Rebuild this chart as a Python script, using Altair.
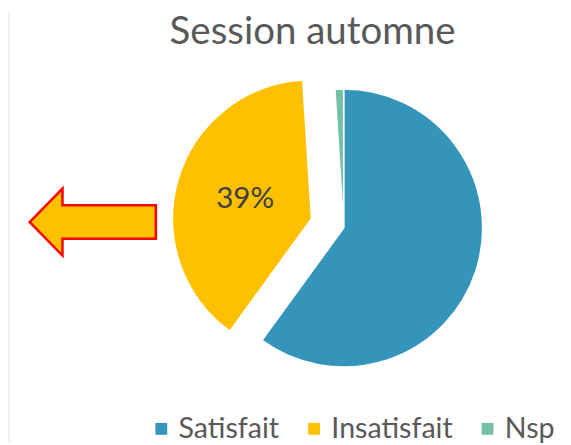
import altair as alt
import pandas as pd

# Data
categories = ["Satisfait", "Insatisfait", "Nsp"]
values = [60, 39, 1]
colors = ["#3494BA", "#FFC000", "#73C0A5"]
title_text = "Session automne"

FONT = "Lato"
CX, CY, R = 340.5, 220, 141
EXPLODE = 34

df = pd.DataFrame({"cat": categories, "value": values, "order": list(range(len(categories)))})

base = alt.Chart(df).transform_joinaggregate(
    total="sum(value)"
).transform_window(
    cum="sum(value)", sort=[alt.SortField("order")], frame=[None, 0]
).transform_calculate(
    start="(datum.cum - datum.value) / datum.total * 2 * PI",
    end="datum.cum / datum.total * 2 * PI",
).transform_calculate(
    mid="(datum.start + datum.end) / 2",
    ex=f"datum.cat == 'Insatisfait' ? {EXPLODE} : 0",
).transform_calculate(
    px=f"{CX} + datum.ex * sin(datum.mid)",
    py=f"{CY} - datum.ex * cos(datum.mid)",
).transform_calculate(
    tx="datum.px + 70 * sin(datum.mid)",
    ty="datum.py - 70 * cos(datum.mid)",
    label="round(datum.value / datum.total * 100) + '%'",
)

pie = base.mark_arc(radius=R, stroke="white", strokeWidth=1.5).encode(
    theta=alt.Theta("start:Q", scale=None),
    theta2=alt.Theta2("end:Q"),
    x=alt.X("px:Q", scale=None),
    y=alt.Y("py:Q", scale=None),
    color=alt.Color(
        "cat:N",
        scale=alt.Scale(domain=categories, range=colors),
        sort=categories,
        legend=alt.Legend(
            title=None,
            orient="none",
            legendX=141,
            legendY=409,
            direction="horizontal",
            symbolType="square",
            symbolSize=144,
            symbolStrokeWidth=0,
            labelFontSize=29,
            labelFont=FONT,
            labelColor="#595959",
            labelOffset=3,
            columnPadding=20,
            padding=0,
        ),
    ),
)

label = base.transform_filter("datum.cat == 'Insatisfait'").mark_text(
    font=FONT, fontSize=30, color="#404040", align="center", baseline="middle"
).encode(
    x=alt.X("tx:Q", scale=None),
    y=alt.Y("ty:Q", scale=None),
    text="label:N",
)

one = pd.DataFrame({"t": [title_text]})
title = alt.Chart(one).mark_text(
    font=FONT, fontSize=39, color="#595959", align="center", baseline="alphabetic"
).encode(x=alt.value(309), y=alt.value(33), text="t:N")

arrow_path = "M -1 0 L -0.48 -0.531 L -0.48 -0.266 L 1 -0.266 L 1 0.266 L -0.48 0.266 L -0.48 0.531 Z"
arrow = alt.Chart(pd.DataFrame({"a": [0]})).mark_point(
    shape=arrow_path, size=16384, filled=True, fill="#FFC000", stroke="#FF0000",
    strokeWidth=2.5, opacity=1, fillOpacity=1, strokeOpacity=1,
).encode(x=alt.value(86), y=alt.value(214))

strip = alt.Chart(pd.DataFrame({"a": [0]})).mark_rect(color="#F2F2F2").encode(
    x=alt.value(0), x2=alt.value(2), y=alt.value(0), y2=alt.value(437)
)

chart = alt.layer(strip, pie, label, title, arrow).properties(
    width=563, height=437, autosize=alt.AutoSizeParams(type="none"), padding=0
).configure_view(stroke=None)

chart.save("out.html", embed_options={"renderer": "svg", "actions": False})
